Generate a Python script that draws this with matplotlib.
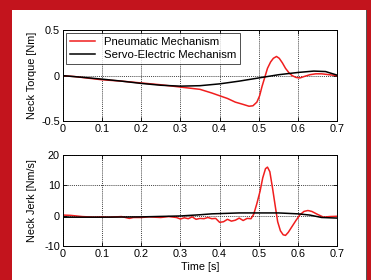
import matplotlib
matplotlib.use("Agg")
import matplotlib.pyplot as plt
from matplotlib.patches import Rectangle

plt.rcParams['font.family'] = ['Liberation Sans', 'DejaVu Sans']

# ---- data ----
torque_pneu_t = [0.0, 0.03, 0.06, 0.1, 0.15, 0.2, 0.25, 0.3, 0.35, 0.38, 0.40, 0.42, 0.44, 0.46,
                 0.475, 0.485, 0.495, 0.502, 0.508, 0.515, 0.522, 0.53, 0.537, 0.545, 0.552,
                 0.56, 0.568, 0.577, 0.585, 0.595, 0.605, 0.615, 0.63, 0.645, 0.66, 0.68, 0.7]
torque_pneu_v = [0.0, -0.01, -0.025, -0.045, -0.06, -0.08, -0.10, -0.125, -0.15, -0.19, -0.22,
                 -0.25, -0.29, -0.315, -0.335, -0.33, -0.29, -0.22, -0.12, -0.02, 0.08, 0.15,
                 0.19, 0.21, 0.19, 0.14, 0.08, 0.03, 0.0, -0.02, -0.025, -0.01, 0.01, 0.02,
                 0.02, 0.01, 0.0]
torque_servo_t = [0, 0.05, 0.1, 0.15, 0.2, 0.25, 0.3, 0.35, 0.4, 0.45, 0.5, 0.55, 0.6, 0.64, 0.67, 0.7]
torque_servo_v = [0, -0.018, -0.038, -0.06, -0.085, -0.105, -0.115, -0.11, -0.09, -0.06,
                  -0.025, 0.01, 0.035, 0.05, 0.045, 0.005]

jerk_pneu_t = [0, 0.02, 0.05, 0.08, 0.1, 0.12, 0.15, 0.17, 0.18, 0.2, 0.22, 0.25, 0.27, 0.29,
               0.3, 0.31, 0.32, 0.33, 0.34, 0.35, 0.36, 0.37, 0.38, 0.39, 0.40, 0.41, 0.42,
               0.43, 0.44, 0.45, 0.46, 0.47, 0.48, 0.487, 0.495, 0.503, 0.51, 0.517, 0.522,
               0.528, 0.535, 0.542, 0.548, 0.555, 0.562, 0.568, 0.575, 0.585, 0.595, 0.605,
               0.615, 0.625, 0.635, 0.65, 0.665, 0.68, 0.7]
jerk_pneu_v = [0.2, 0.1, -0.3, -0.5, -0.4, -0.5, -0.3, -0.9, -0.6, -0.6, -0.4, -0.6, -0.3, -0.6,
               -1.1, -0.7, -1.0, -0.4, -1.2, -0.9, -1.0, -0.6, -1.0, -0.9, -2.2, -2.0, -1.2,
               -1.8, -1.5, -0.8, -1.6, -0.9, -1.0, 0.5, 4.0, 8.0, 12.5, 15.5, 16.0, 14.5, 9.0,
               3.0, -2.0, -5.0, -6.3, -6.5, -5.5, -3.5, -1.5, 0.3, 1.4, 1.7, 1.4, 0.4, -0.5,
               -0.3, -0.2]
jerk_servo_t = [0, 0.1, 0.2, 0.3, 0.35, 0.38, 0.45, 0.55, 0.6, 0.63, 0.66, 0.7]
jerk_servo_v = [-0.5, -0.5, -0.4, -0.1, 0.3, 0.6, 0.9, 0.9, 0.6, 0.2, -0.6, -0.8]

xticks = [0, 0.1, 0.2, 0.3, 0.4, 0.5, 0.6, 0.7]
xticklabels = ['0', '0.1', '0.2', '0.3', '0.4', '0.5', '0.6', '0.7']
torque_yticks = [-0.5, 0, 0.5]
torque_yticklabels = ['-0.5', '0', '0.5']
jerk_yticks = [-10, 0, 10, 20]
jerk_yticklabels = ['-10', '0', '10', '20']

RED_BG = '#c3141d'
LINE_RED = '#f01e1e'

fig = plt.figure(figsize=(3.71, 2.80), dpi=100)
fig.patch.set_facecolor(RED_BG)
# white panel
fig.add_artist(Rectangle((12/371, 0), (354/371), 1 - 9.5/280, transform=fig.transFigure,
                         facecolor='white', edgecolor='none', zorder=0))
fig.add_artist(Rectangle((365.5/371, 0), 1.5/371, 1 - 9.5/280, transform=fig.transFigure,
                         facecolor='#555555', edgecolor='none', zorder=0))

ax1 = fig.add_axes([62.7/371, 1 - 121.3/280, 274.6/371, 91.3/280])
ax2 = fig.add_axes([62.7/371, 1 - 246/280, 274.6/371, 91/280])

def style(ax):
    ax.set_xlim(0, 0.7)
    ax.set_xticks(xticks)
    ax.set_xticklabels(xticklabels)
    ax.tick_params(direction='in', length=3, width=0.6, labelsize=7.8, pad=2,
                   top=True, right=True)
    ax.grid(True, linestyle=(0, (1.5, 1.5)), color='black', linewidth=0.5)
    for s in ax.spines.values():
        s.set_linewidth(0.7)

ax1.plot(torque_pneu_t, torque_pneu_v, color=LINE_RED, lw=1.1, label='Pneumatic Mechanism')
ax1.plot(torque_servo_t, torque_servo_v, color='black', lw=1.1, label='Servo-Electric Mechanism')
ax1.set_ylim(-0.5, 0.5)
ax1.set_yticks(torque_yticks)
ax1.set_yticklabels(torque_yticklabels)
style(ax1)
ax1.set_ylabel('Neck Torque [Nm]', fontsize=7.8)
ax1.yaxis.set_label_coords(-25.5/274.6, 0.5)
leg = ax1.legend(loc='upper left', fontsize=8.2, frameon=True, fancybox=False,
                 edgecolor='black', handlelength=2.2, borderpad=0.35, labelspacing=0.25,
                 borderaxespad=0.25, handletextpad=0.8)
leg.get_frame().set_linewidth(0.6)

ax2.plot(jerk_pneu_t, jerk_pneu_v, color=LINE_RED, lw=1.1)
ax2.plot(jerk_servo_t, jerk_servo_v, color='black', lw=1.1)
ax2.set_ylim(-10, 20)
ax2.set_yticks(jerk_yticks)
ax2.set_yticklabels(jerk_yticklabels)
style(ax2)
ax2.set_ylabel('Neck Jerk [Nm/s]', fontsize=7.8)
ax2.yaxis.set_label_coords(-25.5/274.6, 0.5)
ax2.set_xlabel('Time [s]', fontsize=7.8, labelpad=2)

fig.savefig('out.png', dpi=100, facecolor=fig.get_facecolor())
